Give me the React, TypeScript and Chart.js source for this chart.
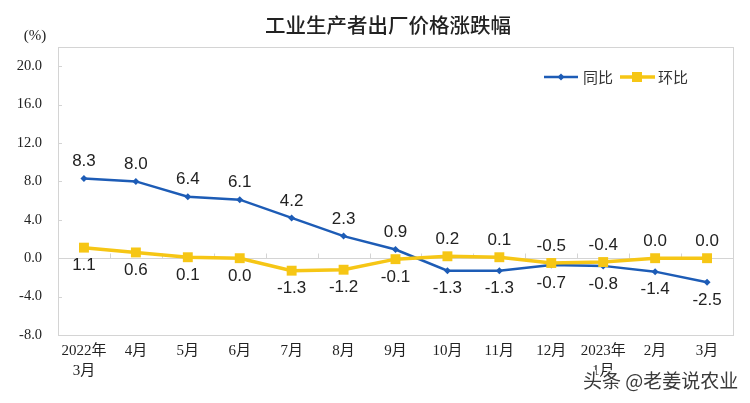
import React, { useEffect, useRef } from "react";
import { Chart, registerables } from "chart.js";

Chart.register(...registerables);

const categories: (string | string[])[] = [
  ["2022年", "3月"], "4月", "5月", "6月", "7月", "8月", "9月", "10月", "11月", "12月", ["2023年", "1月"], "2月", "3月",
];
const yoyValues = [8.3, 8.0, 6.4, 6.1, 4.2, 2.3, 0.9, -1.3, -1.3, -0.7, -0.8, -1.4, -2.5];
const momValues = [1.1, 0.6, 0.1, 0.0, -1.3, -1.2, -0.1, 0.2, 0.1, -0.5, -0.4, 0.0, 0.0];
const seriesNames = ["同比", "环比"];
const chartTitle = "工业生产者出厂价格涨跌幅";
const unitLabel = "(%)";
const watermark = "头条 @老姜说农业";

const BLUE = "#1d5cb6";
const YELLOW = "#f6c615";
const SERIF = "'Liberation Serif', 'Noto Sans CJK SC', serif";
const SANS = "'Liberation Sans', 'Noto Sans CJK SC', sans-serif";
const CJK = "'Noto Sans CJK SC', sans-serif";

const decorPlugin = {
  id: "decor",
  beforeDatasetsDraw(chart: any) {
    const { ctx, chartArea } = chart;
    const { left, right, top, bottom } = chartArea;
    const y = chart.scales.y;
    ctx.save();
    ctx.strokeStyle = "#d4d4d4";
    ctx.lineWidth = 1;
    ctx.strokeRect(Math.round(left) + 0.5, Math.round(top) + 0.5, Math.round(right - left), Math.round(bottom - top));
    y.ticks.forEach((t: any) => {
      const py = Math.round(y.getPixelForValue(t.value)) + 0.5;
      ctx.beginPath();
      ctx.moveTo(left, py);
      ctx.lineTo(left + 4, py);
      ctx.stroke();
    });
    const zy = Math.round(y.getPixelForValue(0)) + 0.5;
    ctx.beginPath();
    ctx.moveTo(left, zy);
    ctx.lineTo(right, zy);
    ctx.stroke();
    const n = categories.length;
    const w = (right - left) / n;
    for (let i = 1; i < n; i++) {
      const px = Math.round(left + i * w) + 0.5;
      ctx.beginPath();
      ctx.moveTo(px, zy);
      ctx.lineTo(px, zy - 5);
      ctx.stroke();
    }
    ctx.restore();
  },
  afterDatasetsDraw(chart: any) {
    const { ctx } = chart;
    const m0 = chart.getDatasetMeta(0);
    const m1 = chart.getDatasetMeta(1);
    ctx.save();
    ctx.fillStyle = "#222";
    ctx.font = `17px ${SANS}`;
    ctx.textAlign = "center";
    ctx.textBaseline = "middle";
    for (let i = 0; i < yoyValues.length; i++) {
      const a = yoyValues[i];
      const b = momValues[i];
      const pa = m0.data[i];
      const pb = m1.data[i];
      const aTop = a >= b;
      ctx.fillText(a.toFixed(1), pa.x, aTop ? pa.y - 17 : pa.y + 18);
      ctx.fillText(b.toFixed(1), pb.x, aTop ? pb.y + 18 : pb.y - 17);
    }
    // title
    ctx.font = `500 20.5px ${CJK}`;
    ctx.fillStyle = "#222";
    ctx.fillText(chartTitle, 388, 25);
    // unit
    ctx.font = `15px ${SERIF}`;
    ctx.fillText(unitLabel, 35, 36);
    // legend
    const ly = 77;
    ctx.lineWidth = 2.5;
    ctx.strokeStyle = BLUE;
    ctx.beginPath();
    ctx.moveTo(544, ly);
    ctx.lineTo(578, ly);
    ctx.stroke();
    ctx.fillStyle = BLUE;
    ctx.beginPath();
    ctx.moveTo(561, ly - 3.5);
    ctx.lineTo(564.5, ly);
    ctx.lineTo(561, ly + 3.5);
    ctx.lineTo(557.5, ly);
    ctx.closePath();
    ctx.fill();
    ctx.lineWidth = 3.5;
    ctx.strokeStyle = YELLOW;
    ctx.beginPath();
    ctx.moveTo(620, ly);
    ctx.lineTo(655, ly);
    ctx.stroke();
    ctx.fillStyle = YELLOW;
    ctx.fillRect(632, ly - 5, 10, 10);
    ctx.fillStyle = "#333";
    ctx.font = `15px ${CJK}`;
    ctx.textAlign = "left";
    ctx.fillText(seriesNames[0], 583, ly);
    ctx.fillText(seriesNames[1], 658, ly);
    // watermark
    ctx.font = `19px ${CJK}`;
    ctx.textAlign = "left";
    ctx.lineWidth = 3;
    ctx.strokeStyle = "rgba(255,255,255,0.9)";
    ctx.strokeText(watermark, 583, 381);
    ctx.fillStyle = "#3a3a3a";
    ctx.fillText(watermark, 583, 381);
    ctx.restore();
  },
};

export default function App() {
  const ref = useRef<HTMLCanvasElement | null>(null);
  useEffect(() => {
    if (!ref.current) return;
    const chart = new Chart(ref.current, {
      type: "line",
      data: {
        labels: categories as any,
        datasets: [
          {
            label: seriesNames[0],
            data: yoyValues,
            borderColor: BLUE,
            backgroundColor: BLUE,
            borderWidth: 2.5,
            pointStyle: "rectRot",
            pointRadius: 3.5,
            pointBorderWidth: 0,
            tension: 0,
            order: 1,
          },
          {
            label: seriesNames[1],
            data: momValues,
            borderColor: YELLOW,
            backgroundColor: YELLOW,
            borderWidth: 3.5,
            pointStyle: "rect",
            pointRadius: 7,
            pointBorderWidth: 0,
            tension: 0,
            order: 0,
          },
        ],
      },
      options: {
        animation: false,
        responsive: false,
        maintainAspectRatio: false,
        layout: { padding: { left: 0, right: 17, top: 47, bottom: 0 } },
        plugins: { legend: { display: false }, tooltip: { enabled: false }, title: { display: false } },
        scales: {
          x: {
            offset: true,
            grid: { display: false, drawTicks: false },
            border: { display: false },
            afterFit: (s: any) => { s.height = 68; },
            ticks: {
              padding: 6,
              color: "#222",
              font: { size: 15, family: SERIF, lineHeight: 1.35 },
              maxRotation: 0,
              autoSkip: false,
            },
          },
          y: {
            min: -8,
            max: 22,
            grid: { display: false, drawTicks: false },
            border: { display: false },
            afterFit: (s: any) => { s.width = 58; },
            afterBuildTicks: (s: any) => { s.ticks = s.ticks.filter((t: any) => t.value <= 20); },
            ticks: {
              stepSize: 4,
              padding: 16,
              color: "#222",
              font: { size: 14.5, family: SERIF },
              callback: (v: any) => Number(v).toFixed(1),
            },
          },
        },
      },
      plugins: [decorPlugin],
    });
    return () => chart.destroy();
  }, []);
  return (
    <div style={{ position: "fixed", left: 0, top: 0, width: 750, height: 403, background: "#fff" }}>
      <canvas ref={ref} width={750} height={403} style={{ width: 750, height: 403, display: "block" }} />
    </div>
  );
}
